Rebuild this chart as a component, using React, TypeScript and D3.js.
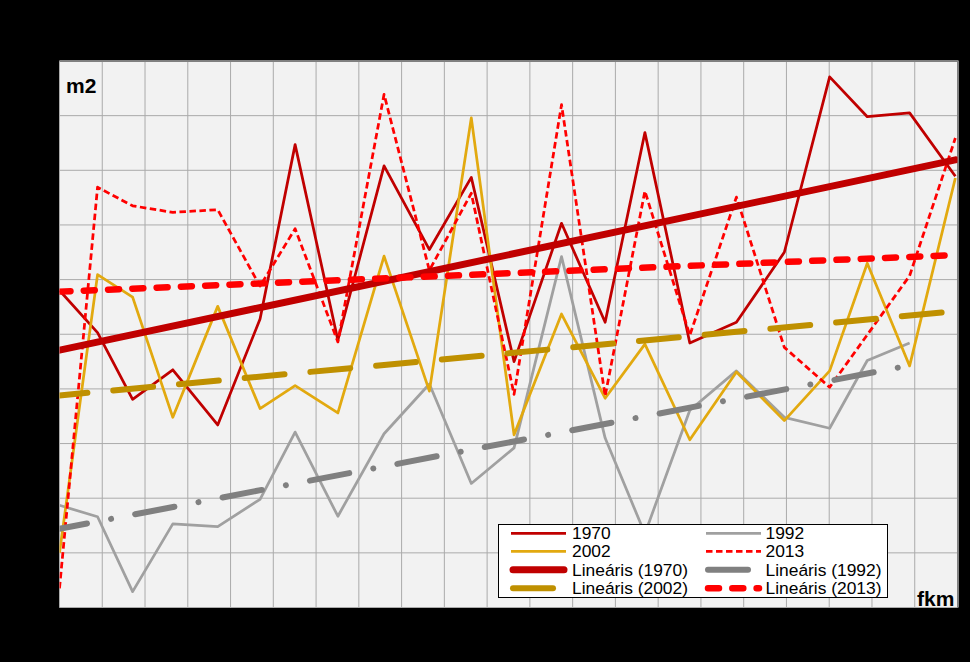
import React from "react";
import * as d3 from "d3";

// x positions along the river (axis units, grid every 1)
const fkm = [0, 0.89, 1.71, 2.65, 3.7, 4.69, 5.51, 6.51, 7.59, 8.65, 9.63, 10.63, 11.74, 12.76, 13.69, 14.74, 15.83, 16.95, 18.01, 18.89, 19.88, 20.95];

const s1970 = [5.8, 5.03, 3.81, 4.35, 3.34, 5.28, 8.47, 4.89, 8.08, 6.55, 7.87, 4.5, 7.03, 5.22, 8.69, 4.84, 5.22, 6.5, 9.71, 8.98, 9.05, 7.89];
const s1992 = [1.87, 1.66, 0.29, 1.53, 1.48, 1.98, 3.21, 1.67, 3.18, 4.09, 2.27, 2.92, 6.42, 3.1, 1.35, 3.61, 4.33, 3.48, 3.28, 4.52, 4.84, null];
const s2002 = [1.0, 6.09, 5.68, 3.48, 5.51, 3.64, 4.06, 3.56, 6.43, 3.96, 8.96, 3.16, 5.37, 3.83, 4.82, 3.07, 4.31, 3.42, 4.33, 6.3, 4.42, 7.86];
const s2013 = [0.35, 7.69, 7.35, 7.23, 7.28, 5.88, 6.93, 4.86, 9.39, 6.17, 7.58, 3.9, 9.2, 3.87, 7.62, 4.98, 7.51, 4.76, 4.03, null, 6.07, 8.59];

// linear trend lines: [xStart, yStart, xEnd, yEnd]
const trend1970 = [0, 4.71, 20.95, 8.19];
const trend1992 = [0, 1.44, 19.88, 4.43];
const trend2002 = [0, 3.88, 20.95, 5.42];
const trend2013 = [0, 5.78, 20.95, 6.45];

const xTicks = d3.range(0, 22);
const yTicks = d3.range(0, 11);

const seriesNames = ["1970", "1992", "2002", "2013"];
const trendNames = ["Lineáris (1970)", "Lineáris (1992)", "Lineáris (2002)", "Lineáris (2013)"];

const FONT = "'Liberation Sans', Arial, sans-serif";

export default function App() {
  const W = 970, H = 662;
  const x = d3.scaleLinear().domain([0, 21]).range([59.5, 957.5]);
  const y = d3.scaleLinear().domain([0, 10]).range([607.5, 61]);
  const [x0, x1] = x.range();
  const [yb, yt] = y.range();

  const line = d3.line<[number, number]>().x(d => x(d[0])).y(d => y(d[1]));
  const pts = (vals: (number | null)[]) =>
    fkm.map((xv, i) => [xv, vals[i]] as [number, number | null]).filter(p => p[1] != null) as [number, number][];
  const tr = (t: number[]) => line([[t[0], t[1]], [t[2], t[3]]]) as string;

  const lineStyles = [
    { data: s1970, stroke: "#C00000", w: 2.75, dash: undefined as string | undefined },
    { data: s1992, stroke: "#A0A0A0", w: 2.75, dash: undefined },
    { data: s2002, stroke: "#E2A90F", w: 2.75, dash: undefined },
    { data: s2013, stroke: "#FF0000", w: 2.75, dash: "6.5 3.5" },
  ];
  const trendStyles = [
    { t: trend1970, stroke: "#C00000", w: 7, dash: undefined as string | undefined, off: 0 },
    { t: trend1992, stroke: "#808080", w: 6, dash: "40 24.5 0.01 24.5", off: 12 },
    { t: trend2002, stroke: "#BF9000", w: 6, dash: "40 26", off: 12 },
    { t: trend2013, stroke: "#FF0000", w: 6.5, dash: "11 13.3", off: 0 },
  ];

  // legend layout: row-wise, 2 columns
  const legendItems = [
    { label: seriesNames[0], kind: "line", st: lineStyles[0] },
    { label: seriesNames[1], kind: "line", st: lineStyles[1] },
    { label: seriesNames[2], kind: "line", st: lineStyles[2] },
    { label: seriesNames[3], kind: "line", st: lineStyles[3] },
    { label: trendNames[0], kind: "trend", st: trendStyles[0] },
    { label: trendNames[1], kind: "trend", st: trendStyles[1] },
    { label: trendNames[2], kind: "trend", st: trendStyles[2] },
    { label: trendNames[3], kind: "trend", st: trendStyles[3] },
  ];
  const rowY = [533.3, 551.3, 569.8, 588.2];
  const colX = [511, 706];

  return (
    <svg width={W} height={H} style={{ position: "absolute", left: 0, top: 0, background: "#000" }}>
      <rect x={0} y={0} width={W} height={H} fill="#000" />
      <defs>
        <clipPath id="plotClip">
          <rect x={x0} y={yt} width={x1 - x0} height={yb - yt} />
        </clipPath>
      </defs>
      <rect x={x0} y={yt} width={x1 - x0} height={yb - yt} fill="#F2F2F2" />
      <g stroke="#ABABAB" strokeWidth={1}>
        {xTicks.map(t => (
          <line key={"gx" + t} x1={x(t)} x2={x(t)} y1={yt} y2={yb} />
        ))}
        {yTicks.map(t => (
          <line key={"gy" + t} x1={x0} x2={x1} y1={y(t)} y2={y(t)} />
        ))}
      </g>
      <line x1={x0} x2={x1 + 1} y1={yt} y2={yt} stroke="#808080" strokeWidth={2} />
      <line x1={x1 + 0.5} x2={x1 + 0.5} y1={yt} y2={yb} stroke="#808080" strokeWidth={2} />

      <g clipPath="url(#plotClip)" fill="none" strokeLinejoin="round">
        {lineStyles.map((s, i) => (
          <path key={"l" + i} d={line(pts(s.data)) as string} stroke={s.stroke} strokeWidth={s.w} strokeDasharray={s.dash} />
        ))}
        {trendStyles.map((s, i) => (
          <path key={"t" + i} d={tr(s.t)} stroke={s.stroke} strokeWidth={s.w} strokeDasharray={s.dash}
            strokeDashoffset={s.off} strokeLinecap="round" />
        ))}
      </g>

      <text x={66} y={93} fontFamily={FONT} fontWeight="bold" fontSize={21} fill="#000">m2</text>
      <text x={917} y={605.5} fontFamily={FONT} fontWeight="bold" fontSize={21} fill="#000">fkm</text>

      <g>
        <rect x={498.5} y={524.5} width={389} height={73} fill="#fff" stroke="#000" strokeWidth={1} />
        {legendItems.map((it, i) => {
          const r = Math.floor(i / 2), c = i % 2;
          const lx = colX[c], ly = rowY[r];
          const st: any = it.st;
          return (
            <g key={"lg" + i}>
              {it.kind === "line" ? (
                <line x1={lx} x2={lx + 55} y1={ly} y2={ly} stroke={st.stroke} strokeWidth={st.w}
                  strokeDasharray={st.dash} />
              ) : (
                <line x1={lx + 2} x2={lx + 53} y1={ly} y2={ly} stroke={st.stroke} strokeWidth={st.w}
                  strokeDasharray={st.dash} strokeLinecap="round" />
              )}
              <text x={lx + (c === 0 ? 61 : 59.5)} y={ly + 6} fontFamily={FONT} fontSize={17.4} fill="#000">{it.label}</text>
            </g>
          );
        })}
      </g>
    </svg>
  );
}
